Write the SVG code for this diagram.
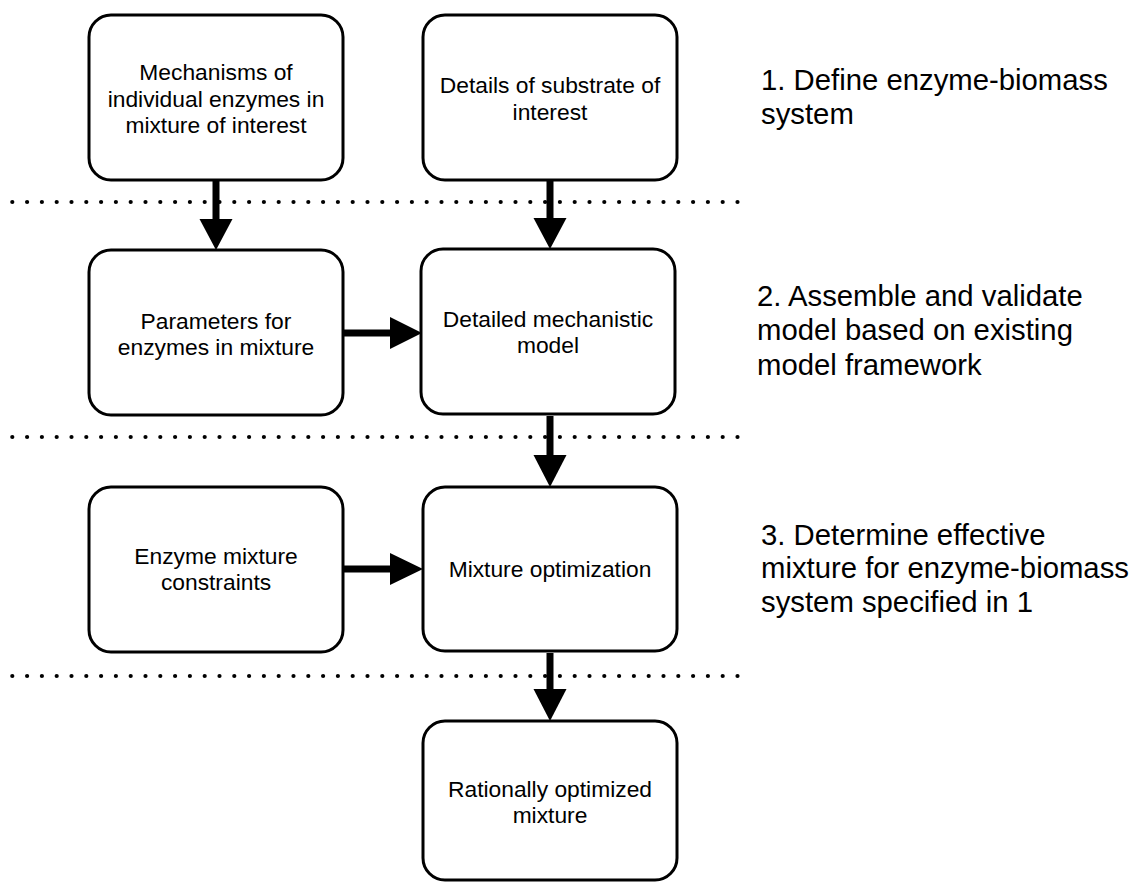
<svg xmlns="http://www.w3.org/2000/svg" width="1136" height="882" viewBox="0 0 1136 882">
<style>
.box{fill:#fff;stroke:#000;stroke-width:3}
.t{font-family:"Liberation Sans",Arial,sans-serif;font-size:22.8px;fill:#000;text-anchor:middle}
.s{font-family:"Liberation Sans",Arial,sans-serif;font-size:29.3px;fill:#000}
.dot{stroke:#000;stroke-width:4.2;stroke-linecap:round;stroke-dasharray:0 14.8;fill:none}
.sh{stroke:#000;stroke-width:7;fill:none}
.hd{fill:#000}
</style>
<rect width="1136" height="882" fill="#fff"/>
<g id="separators">
<line class="dot" x1="12.3" y1="202" x2="740" y2="202"/>
<line class="dot" x1="12.3" y1="437" x2="740" y2="437"/>
<line class="dot" x1="12.3" y1="676" x2="740" y2="676"/>
</g>
<g id="connectors">
<line class="sh" x1="216" y1="181" x2="216" y2="222"/>
<polygon class="hd" points="199.5,219 232.5,219 216,250"/>
<line class="sh" x1="550" y1="181" x2="550" y2="221"/>
<polygon class="hd" points="533.5,218 566.5,218 550,249"/>
<line class="sh" x1="550" y1="416" x2="550" y2="458"/>
<polygon class="hd" points="533.5,455 566.5,455 550,487"/>
<line class="sh" x1="550" y1="653" x2="550" y2="692"/>
<polygon class="hd" points="533.5,689 566.5,689 550,721"/>
<line class="sh" x1="344" y1="333" x2="393" y2="333"/>
<polygon class="hd" points="390,317 390,349 422,333"/>
<line class="sh" x1="344" y1="569" x2="393" y2="569"/>
<polygon class="hd" points="390,553 390,585 423,569"/>
</g>
<g id="n-mechanisms">
<rect class="box" x="89" y="15" width="254" height="165" rx="22"/>
<text class="t" x="216" y="80">Mechanisms of</text>
<text class="t" x="216" y="106.5">individual enzymes in</text>
<text class="t" x="216" y="133">mixture of interest</text>
</g>
<g id="n-details">
<rect class="box" x="423" y="15" width="254" height="165" rx="22"/>
<text class="t" x="550" y="93">Details of substrate of</text>
<text class="t" x="550" y="120">interest</text>
</g>
<g id="n-parameters">
<rect class="box" x="89" y="250" width="254" height="165" rx="22"/>
<text class="t" x="216" y="329">Parameters for</text>
<text class="t" x="216" y="355">enzymes in mixture</text>
</g>
<g id="n-detailed">
<rect class="box" x="421" y="249" width="254" height="165" rx="22"/>
<text class="t" x="548" y="327">Detailed mechanistic</text>
<text class="t" x="548" y="353">model</text>
</g>
<g id="n-constraints">
<rect class="box" x="89" y="487" width="254" height="165" rx="22"/>
<text class="t" x="216" y="564">Enzyme mixture</text>
<text class="t" x="216" y="590">constraints</text>
</g>
<g id="n-optimization">
<rect class="box" x="423" y="487" width="254" height="164" rx="22"/>
<text class="t" x="550" y="577">Mixture optimization</text>
</g>
<g id="n-result">
<rect class="box" x="423" y="721" width="254" height="159" rx="22"/>
<text class="t" x="550" y="797">Rationally optimized</text>
<text class="t" x="550" y="823">mixture</text>
</g>
<g id="steps">
<text class="s" x="761" y="90">1. Define enzyme-biomass</text>
<text class="s" x="761" y="124">system</text>
<text class="s" x="757" y="306">2. Assemble and validate</text>
<text class="s" x="757" y="340">model based on existing</text>
<text class="s" x="757" y="375">model framework</text>
<text class="s" x="761" y="545">3. Determine effective</text>
<text class="s" x="761" y="578">mixture for enzyme-biomass</text>
<text class="s" x="761" y="612">system specified in 1</text>
</g>
</svg>
